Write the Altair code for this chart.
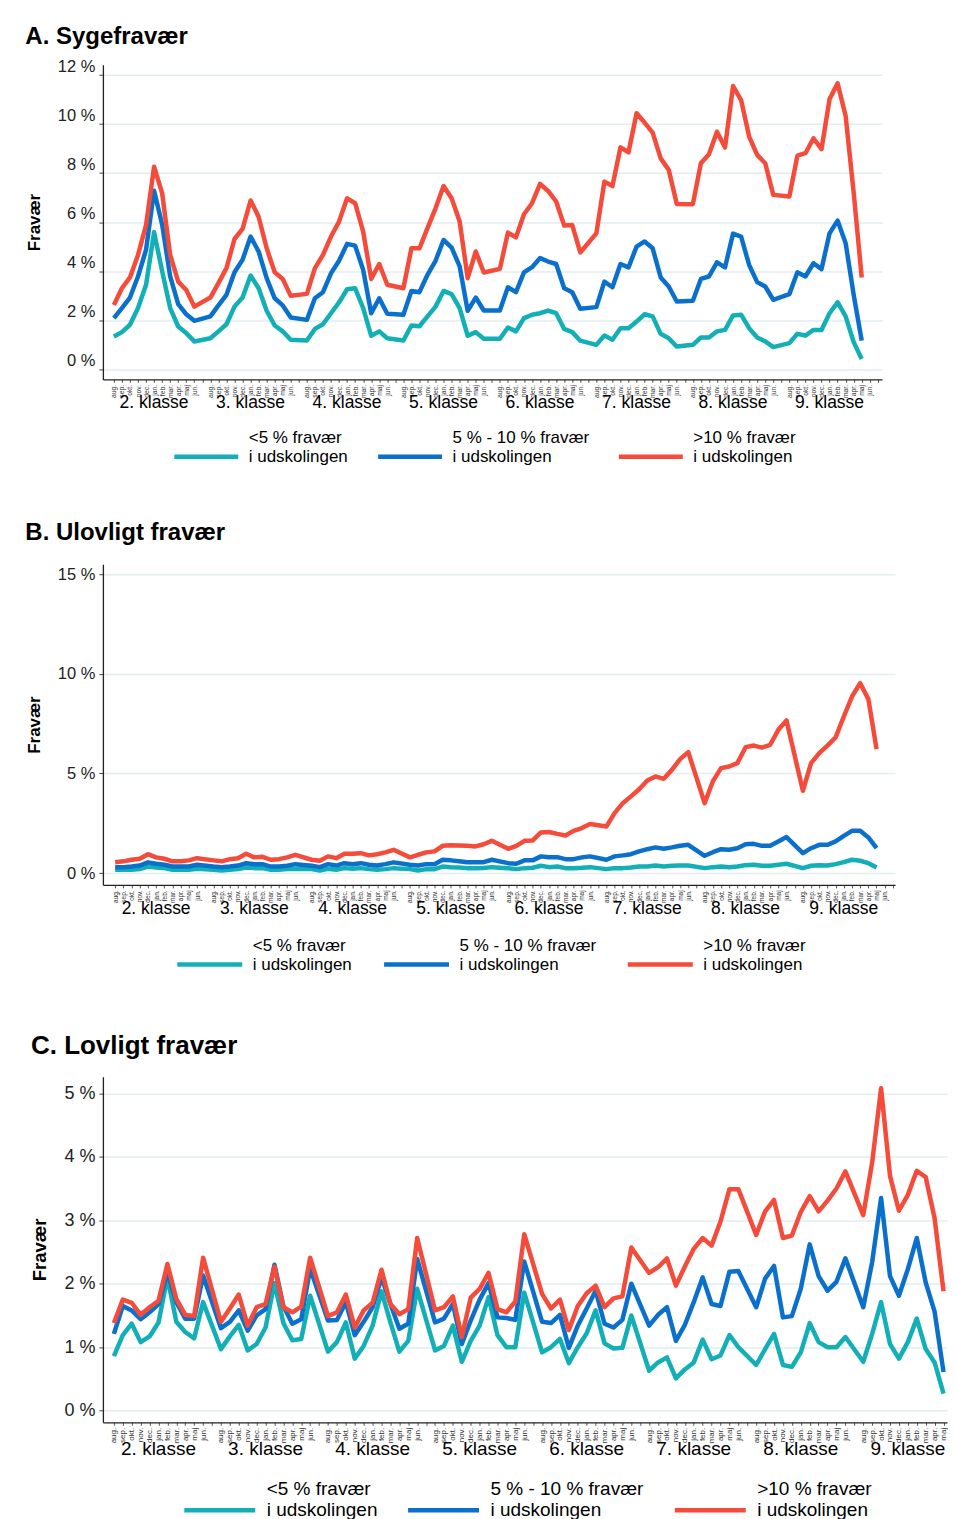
import altair as alt
import pandas as pd

GRADES = ["2. klasse", "3. klasse", "4. klasse", "5. klasse",
          "6. klasse", "7. klasse", "8. klasse", "9. klasse"]
MONTHS = ["aug.", "sep.", "okt.", "nov.", "dec.", "jan.", "feb.", "mar.", "apr.", "maj", "jun."]
SERIES = ["<5 % fravær|i udskolingen",
          "5 % - 10 % fravær|i udskolingen",
          ">10 % fravær|i udskolingen"]
COLORS = ["#13AFB6", "#0A70CC", "#F44B3B"]

# ---------- A. Sygefravær (per grade: aug..jun) ----------
A_LOW = [
    [1.33, 1.51, 1.81, 2.49, 3.44, 5.59, 4.00, 2.49, 1.74, 1.47, 1.13],
    [1.26, 1.54, 1.83, 2.55, 2.92, 3.82, 3.30, 2.38, 1.78, 1.54, 1.20],
    [1.17, 1.64, 1.83, 2.28, 2.72, 3.26, 3.30, 2.49, 1.36, 1.54, 1.26],
    [1.17, 1.78, 1.75, 2.15, 2.55, 3.19, 3.06, 2.49, 1.36, 1.51, 1.24],
    [1.24, 1.70, 1.54, 2.08, 2.22, 2.28, 2.39, 2.28, 1.64, 1.51, 1.16],
    [0.99, 1.37, 1.20, 1.67, 1.67, 1.94, 2.24, 2.15, 1.44, 1.26, 0.92],
    [0.99, 1.29, 1.29, 1.54, 1.60, 2.19, 2.22, 1.67, 1.29, 1.13, 0.90],
    [1.06, 1.44, 1.37, 1.60, 1.60, 2.28, 2.73, 2.15, 1.10, 0.41, None],
]
A_MID = [
    [2.08, 2.49, 2.92, 3.78, 4.87, 7.28, 5.90, 3.78, 2.65, 2.24, 1.97],
    [2.15, 2.60, 3.03, 3.95, 4.46, 5.41, 4.80, 3.71, 2.89, 2.60, 2.11],
    [2.01, 2.89, 3.14, 3.91, 4.42, 5.11, 5.04, 4.05, 2.28, 2.89, 2.26],
    [2.22, 3.19, 3.14, 3.85, 4.42, 5.27, 4.96, 4.19, 2.38, 2.92, 2.39],
    [2.39, 3.34, 3.14, 3.95, 4.16, 4.53, 4.39, 4.29, 3.30, 3.14, 2.46],
    [2.53, 3.57, 3.34, 4.29, 4.15, 5.00, 5.21, 4.93, 3.74, 3.37, 2.76],
    [2.79, 3.68, 3.78, 4.36, 4.15, 5.53, 5.41, 4.25, 3.55, 3.37, 2.83],
    [3.06, 3.95, 3.78, 4.32, 4.08, 5.54, 6.06, 5.14, 3.03, 1.16, None],
]
A_HIGH = [
    [2.62, 3.30, 3.74, 4.66, 5.88, 8.26, 7.18, 4.66, 3.57, 3.23, 2.55],
    [2.92, 3.51, 4.12, 5.31, 5.72, 6.88, 6.22, 4.93, 3.95, 3.68, 2.99],
    [3.07, 4.12, 4.66, 5.41, 6.02, 6.97, 6.77, 5.61, 3.68, 4.29, 3.44],
    [3.30, 4.93, 4.93, 5.75, 6.56, 7.47, 6.97, 6.02, 3.71, 4.80, 3.94],
    [4.09, 5.57, 5.38, 6.32, 6.77, 7.56, 7.27, 6.84, 5.86, 5.88, 4.76],
    [5.54, 7.65, 7.47, 9.05, 8.85, 10.44, 10.06, 9.65, 8.60, 8.13, 6.74],
    [6.73, 8.40, 8.77, 9.69, 9.04, 11.55, 10.98, 9.49, 8.74, 8.40, 7.11],
    [7.04, 8.71, 8.81, 9.42, 8.98, 11.02, 11.66, 10.33, 7.20, 3.74, None],
]

# ---------- B. Ulovligt fravær ----------
B_LOW = [
    [0.17, 0.17, 0.17, 0.20, 0.33, 0.28, 0.25, 0.17, 0.17, 0.17, 0.22],
    [0.17, 0.13, 0.17, 0.20, 0.28, 0.25, 0.25, 0.17, 0.17, 0.20, 0.22],
    [0.20, 0.13, 0.22, 0.17, 0.25, 0.22, 0.25, 0.20, 0.17, 0.20, 0.25],
    [0.20, 0.13, 0.20, 0.20, 0.33, 0.30, 0.28, 0.25, 0.25, 0.26, 0.30],
    [0.25, 0.20, 0.25, 0.27, 0.37, 0.30, 0.33, 0.25, 0.25, 0.27, 0.30],
    [0.20, 0.25, 0.25, 0.28, 0.33, 0.33, 0.38, 0.33, 0.37, 0.38, 0.38],
    [0.25, 0.30, 0.33, 0.30, 0.33, 0.40, 0.42, 0.37, 0.37, 0.42, 0.47],
    [0.25, 0.37, 0.40, 0.38, 0.45, 0.55, 0.67, 0.62, 0.50, 0.28, None],
]
B_MID = [
    [0.30, 0.30, 0.33, 0.38, 0.54, 0.47, 0.42, 0.33, 0.33, 0.33, 0.42],
    [0.33, 0.30, 0.33, 0.38, 0.50, 0.45, 0.45, 0.33, 0.33, 0.37, 0.45],
    [0.37, 0.30, 0.45, 0.38, 0.50, 0.45, 0.50, 0.42, 0.38, 0.45, 0.54],
    [0.42, 0.38, 0.45, 0.45, 0.67, 0.64, 0.59, 0.54, 0.54, 0.55, 0.67],
    [0.50, 0.47, 0.64, 0.64, 0.84, 0.80, 0.80, 0.70, 0.70, 0.79, 0.84],
    [0.67, 0.84, 0.89, 0.95, 1.09, 1.20, 1.29, 1.22, 1.29, 1.37, 1.42],
    [0.87, 1.05, 1.20, 1.17, 1.25, 1.45, 1.47, 1.37, 1.37, 1.59, 1.81],
    [1.00, 1.25, 1.42, 1.42, 1.59, 1.87, 2.12, 2.12, 1.79, 1.25, None],
]
B_HIGH = [
    [0.54, 0.59, 0.67, 0.72, 0.95, 0.79, 0.72, 0.59, 0.59, 0.64, 0.75],
    [0.64, 0.59, 0.70, 0.75, 0.97, 0.79, 0.82, 0.67, 0.70, 0.79, 0.92],
    [0.67, 0.62, 0.84, 0.75, 0.97, 0.97, 1.00, 0.89, 0.95, 1.04, 1.17],
    [0.79, 0.92, 1.04, 1.09, 1.37, 1.40, 1.39, 1.37, 1.34, 1.45, 1.62],
    [1.22, 1.37, 1.62, 1.64, 2.04, 2.06, 1.97, 1.89, 2.12, 2.26, 2.46],
    [2.34, 3.01, 3.51, 3.85, 4.21, 4.65, 4.85, 4.73, 5.18, 5.72, 6.07],
    [3.51, 4.60, 5.27, 5.35, 5.52, 6.32, 6.40, 6.30, 6.44, 7.19, 7.66],
    [4.13, 5.52, 6.02, 6.40, 6.81, 7.86, 8.86, 9.53, 8.73, 6.22, None],
]

# ---------- C. Lovligt fravær ----------
C_LOW = [
    [0.86, 1.19, 1.37, 1.08, 1.17, 1.39, 2.10, 1.40, 1.24, 1.14, 1.71],
    [0.97, 1.17, 1.35, 0.95, 1.05, 1.31, 2.01, 1.38, 1.11, 1.13, 1.81],
    [0.93, 1.08, 1.39, 0.82, 1.02, 1.34, 1.88, 1.39, 0.93, 1.10, 1.92],
    [0.95, 1.02, 1.34, 0.77, 1.10, 1.34, 1.79, 1.19, 1.00, 1.00, 1.86],
    [0.92, 1.00, 1.13, 0.75, 1.00, 1.22, 1.58, 1.06, 0.98, 0.99, 1.50],
    [0.63, 0.76, 0.84, 0.51, 0.65, 0.76, 1.12, 0.81, 0.87, 1.19, 1.00],
    [0.72, 0.97, 1.21, 0.72, 0.69, 0.92, 1.38, 1.08, 1.00, 1.00, 1.16],
    [0.77, 1.21, 1.71, 1.05, 0.82, 1.08, 1.45, 0.97, 0.76, 0.27, None],
]
C_MID = [
    [1.21, 1.65, 1.58, 1.44, 1.55, 1.68, 2.18, 1.71, 1.45, 1.45, 2.13],
    [1.30, 1.40, 1.58, 1.26, 1.50, 1.60, 2.30, 1.65, 1.37, 1.44, 2.24],
    [1.42, 1.43, 1.71, 1.19, 1.40, 1.63, 2.10, 1.68, 1.29, 1.37, 2.39],
    [1.39, 1.45, 1.68, 1.05, 1.42, 1.75, 2.01, 1.47, 1.46, 1.43, 2.35],
    [1.40, 1.38, 1.51, 0.99, 1.34, 1.61, 1.89, 1.37, 1.31, 1.43, 2.00],
    [1.34, 1.51, 1.63, 1.10, 1.35, 1.71, 2.10, 1.68, 1.65, 2.19, 2.20],
    [1.63, 2.08, 2.28, 1.47, 1.49, 1.92, 2.62, 2.12, 1.89, 2.03, 2.40],
    [1.63, 2.34, 3.35, 2.12, 1.81, 2.23, 2.72, 2.02, 1.56, 0.61, None],
]
C_HIGH = [
    [1.38, 1.75, 1.70, 1.51, 1.63, 1.73, 2.31, 1.76, 1.51, 1.49, 2.41],
    [1.40, 1.61, 1.83, 1.34, 1.63, 1.68, 2.27, 1.63, 1.55, 1.64, 2.41],
    [1.49, 1.55, 1.83, 1.31, 1.58, 1.70, 2.22, 1.68, 1.52, 1.60, 2.72],
    [1.58, 1.63, 1.80, 1.16, 1.78, 1.92, 2.17, 1.60, 1.55, 1.72, 2.78],
    [1.84, 1.61, 1.75, 1.27, 1.65, 1.85, 1.97, 1.63, 1.77, 1.80, 2.57],
    [2.17, 2.26, 2.40, 1.97, 2.27, 2.55, 2.72, 2.60, 2.98, 3.49, 3.49],
    [2.77, 3.14, 3.32, 2.72, 2.76, 3.13, 3.38, 3.14, 3.31, 3.50, 3.77],
    [3.08, 3.91, 5.08, 3.70, 3.15, 3.40, 3.78, 3.68, 3.03, 1.88, None],
]

SLOTS_PER_GRADE = 12  # 11 school months + empty July slot


def long_df(series_lists):
    rows = []
    for s_name, grades in zip(SERIES, series_lists):
        for gi, vals in enumerate(grades):
            for mi, v in enumerate(vals):
                if v is None:
                    continue
                rows.append({"serie": s_name, "slot": gi * SLOTS_PER_GRADE + mi,
                             "klasse": GRADES[gi], "maaned": MONTHS[mi], "value": v})
    return pd.DataFrame(rows)


MONTH_EXPR = "[" + ",".join("'" + m + "'" for m in MONTHS) + ",''][datum.value % 12]"
GRADE_DF = pd.DataFrame({"klasse": GRADES,
                         "slot": [i * SLOTS_PER_GRADE + 5 for i in range(len(GRADES))]})


def panel(title, series_lists, *, width, height, xdom, nslots, ydom, yticks,
          ylab, ybase, yoff, ytitle, tsize, toffset, gsize, gdy, msize,
          lx, ly, lfont, slen, loff, lpad, sym_dy, lpadding=0):
    df = long_df(series_lists)
    x_enc = alt.X(
        "slot:Q",
        scale=alt.Scale(domain=xdom, nice=False, zero=False),
        axis=alt.Axis(values=list(range(nslots)), labelExpr=MONTH_EXPR, labelAngle=-90,
                      labelFontSize=msize, labelPadding=2, labelColor="#333",
                      labelOverlap=False, labelFlush=False, tickSize=3,
                      tickColor="#555", tickWidth=1, domainColor="#222",
                      domainWidth=1.3, grid=False, title=None),
    )
    y_enc = alt.Y(
        "value:Q",
        scale=alt.Scale(domain=ydom, nice=False, zero=False),
        axis=alt.Axis(values=yticks, labelExpr="datum.value + ' %'", title="Fravær",
                      titleFontSize=ytitle, titleFontWeight="bold", titleColor="#000",
                      titlePadding=14, labelFontSize=ylab, labelColor="#222",
                      labelBaseline=ybase, labelOffset=yoff,
                      labelPadding=4, labelFlush=False, tickSize=4, tickColor="#444",
                      domainColor="#222", domainWidth=1.3,
                      gridColor="#E3EDF0", gridWidth=1.5),
    )
    sym_path = "M-1,%.3fL1,%.3f" % (sym_dy, sym_dy)
    color = alt.Color(
        "serie:N",
        scale=alt.Scale(domain=SERIES, range=COLORS),
        legend=alt.Legend(title=None, orient="none", legendX=lx, legendY=ly,
                          direction="horizontal", symbolType=sym_path,
                          symbolSize=slen * slen, symbolStrokeWidth=4.5,
                          labelFontSize=lfont, labelExpr="split(datum.label, '|')",
                          labelBaseline="middle", labelOffset=loff, columnPadding=lpad,
                          labelLimit=400, padding=lpadding, labelColor="#000"),
    )
    lines = alt.Chart(df).mark_line(strokeWidth=4.5, strokeJoin="round").encode(
        x=x_enc, y=y_enc, color=color)
    grades = alt.Chart(GRADE_DF).mark_text(
        fontSize=gsize, baseline="alphabetic", align="center", color="#000"
    ).encode(x=x_enc, y=alt.value(height + gdy), text="klasse:N")
    return alt.layer(lines, grades).properties(
        width=width, height=height,
        title=alt.TitleParams(title, anchor="start", frame="bounds", fontSize=tsize,
                              fontWeight="bold", color="#000", offset=toffset),
    )


pA = panel("A. Sygefravær", [A_LOW, A_MID, A_HIGH],
           width=780, height=315, xdom=[-1.366, 95.53], nslots=96, ydom=[-0.42, 12.42],
           yticks=[0, 2, 4, 6, 8, 10, 12], ylab=16.5, ybase="alphabetic", yoff=-4,
           ytitle=17, tsize=24, toffset=9,
           gsize=17.5, gdy=29, msize=6.8,
           lx=69, ly=339, lfont=17, slen=64, loff=8, lpad=20, sym_dy=0.58)
pB = panel("B. Ulovligt fravær", [B_LOW, B_MID, B_HIGH],
           width=793, height=321, xdom=[-1.50, 95.26], nslots=96, ydom=[-0.59, 15.5],
           yticks=[0, 5, 10, 15], ylab=16.5, ybase="middle", yoff=0,
           ytitle=17, tsize=24, toffset=19,
           gsize=17.5, gdy=29, msize=6.5,
           lx=68, ly=343, lfont=17, slen=65, loff=8, lpad=22, sym_dy=0.57, lpadding=4)
pC = panel("C. Lovligt fravær", [C_LOW, C_MID, C_HIGH],
           width=845, height=346, xdom=[-1.232, 93.39], nslots=94, ydom=[-0.183, 5.262],
           yticks=[0, 1, 2, 3, 4, 5], ylab=18, ybase="middle", yoff=0,
           ytitle=18.5, tsize=26, toffset=18,
           gsize=19, gdy=33, msize=8,
           lx=79, ly=375, lfont=19, slen=71, loff=9, lpad=21, sym_dy=0.59)

chart = alt.vconcat(pA, pB, pC, spacing=55).resolve_scale(
    color="independent"
).resolve_legend(color="independent").properties(
    padding={"left": 17, "top": 16, "right": 0, "bottom": 0}
).configure(font="Liberation Sans").configure_view(stroke=None)

chart.save("out.html", embed_options={"renderer": "svg", "actions": False})
